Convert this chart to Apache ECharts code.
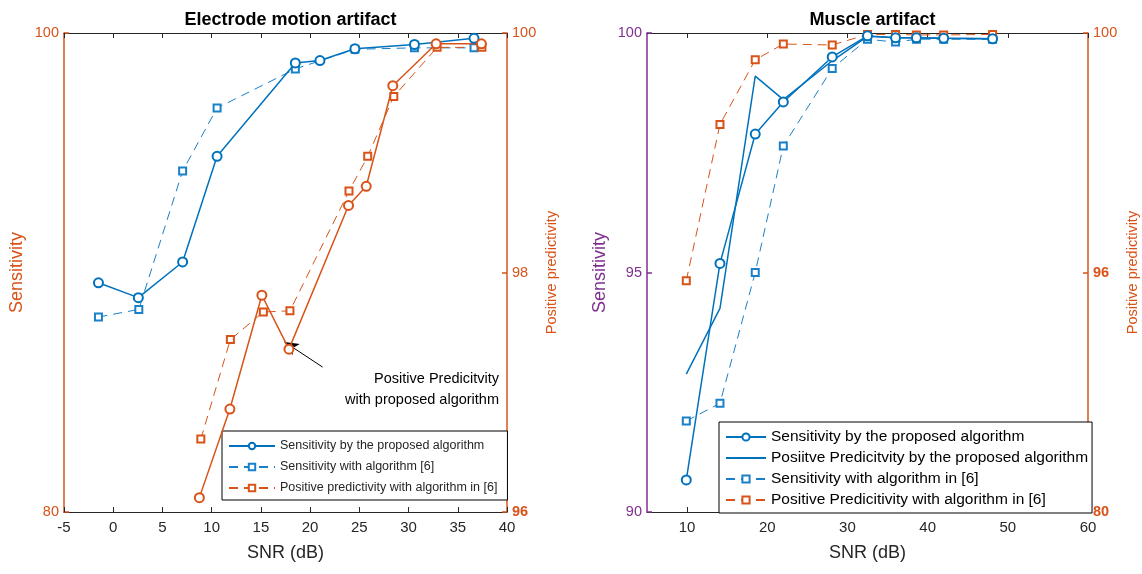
<!DOCTYPE html>
<html>
<head>
<meta charset="utf-8">
<title>Sensitivity and positive predictivity versus SNR</title>
<script src="https://cdn.jsdelivr.net/npm/echarts@6/dist/echarts.min.js"></script>
<style>
  html, body { margin: 0; padding: 0; background: #fff; }
  #chart { width: 1142px; height: 574px; }
</style>
</head>
<body>
<div id="chart"></div>
<script>
// ---- Electrode motion artifact ----
const emSensPropX = [-1.5, 2.55, 7.05, 10.55, 18.5, 21.0, 24.55, 30.6, 36.65];
const emSensProp  = [89.57, 88.95, 90.44, 94.85, 98.75, 98.85, 99.34, 99.52, 99.78];
const emSensRefX  = [-1.5, 2.6, 7.05, 10.55, 18.5, 24.55, 30.6, 36.65];
const emSensRef   = [88.14, 88.46, 94.24, 96.87, 98.50, 99.32, 99.38, 99.38];
const emPpvPropX  = [8.75, 11.85, 15.1, 17.85, 23.9, 25.7, 28.4, 32.8, 37.4];
const emPpvProp   = [96.12, 96.86, 97.81, 97.36, 98.56, 98.72, 99.56, 99.91, 99.91];
const emPpvRefX   = [8.9, 11.9, 15.25, 17.95, 23.95, 25.85, 28.5, 32.9, 37.45];
const emPpvRef    = [96.61, 97.44, 97.67, 97.68, 98.68, 98.97, 99.47, 99.88, 99.88];

// ---- Muscle artifact ----
const maSNR      = [9.9, 14.1, 18.5, 22.0, 28.1, 32.5, 36.0, 38.6, 42.0, 48.1];
const maSensProp = [90.67, 95.19, 97.89, 98.56, 99.5, 99.94, 99.9, 99.9, 99.89, 99.88];
const maPpvProp  = [92.88, 94.25, 99.1, 98.61, 99.42, 99.93, 99.9, 99.9, 99.89, 99.88];
const maSensRef  = [91.9, 92.27, 95.0, 97.64, 99.26, 99.87, 99.81, 99.87, 99.87, 99.87];
const maPpvRef   = [89.66, 96.18, 98.88, 99.54, 99.5, 99.94, 99.94, 99.92, 99.92, 99.94];

// ---- tick labels ----
const maXTicks = [10, 20, 30, 40, 50, 60];
const maRightTickValues = [80, 90, 100];
const maRightTickLabels = ['80', '96', '100'];

// ---- annotation (SNR dB, positive predictivity %) ----
const arrowFrom = [21.27, 97.21];
const arrowTo   = [17.4, 97.42];
const noteLines = ['Positive Predicitvity', 'with proposed algorithm'];

// ---- legend names ----
const nSensProp = 'Sensitivity by the proposed algorithm';
const nEmSensRef = 'Sensitivity with algorithm [6]';
const nEmPpvRef = 'Positive predictivity with algorithm in [6]';
const nEmPpvProp = 'Positive predictivity by the proposed algorithm';
const nMaPpvProp = 'Posiitve Predicitvity by the proposed algorithm';
const nMaSensRef = 'Sensitivity with algorithm in [6]';
const nMaPpvRef = 'Positive Predicitivity with algorithm in [6]';

const BLUE = '#0072BD';
const BLUE_D = '#1a80c8';
const ORANGE = '#D95319';
const PURPLE = '#7E2F8E';
const DARK = '#262626';
const FONT = 'Liberation Sans, Arial, Helvetica, sans-serif';

const zip = (xs, ys) => xs.map((x, i) => [x, ys[i]]);

function xAxisPair(gridIndex, min, max, interval, custom) {
  const tick = { show: true, inside: true, length: 5, lineStyle: { color: DARK, width: 1 } };
  const label = { color: DARK, fontSize: 15, fontFamily: FONT, margin: 8 };
  if (custom) { tick.customValues = custom; label.customValues = custom; }
  return [
    {
      type: 'value', gridIndex, position: 'bottom', min, max, interval,
      name: 'SNR (dB)', nameLocation: 'middle', nameGap: 32,
      nameTextStyle: { color: DARK, fontSize: 18, fontFamily: FONT },
      axisLine: { show: true, onZero: false, lineStyle: { color: DARK, width: 1 } },
      axisTick: tick, axisLabel: label, splitLine: { show: false }
    },
    {
      type: 'value', gridIndex, position: 'top', min, max, interval,
      axisLine: { show: true, onZero: false, lineStyle: { color: DARK, width: 1 } },
      axisTick: Object.assign({}, tick), axisLabel: { show: false }, splitLine: { show: false }
    }
  ];
}

function yAxis(gridIndex, position, min, max, interval, color, name, nameSize, nameGap, extraLabel) {
  return {
    type: 'value', gridIndex, position, min, max, interval,
    name, nameLocation: 'middle', nameGap, nameRotate: 90,
    nameTextStyle: { color, fontSize: nameSize, fontFamily: FONT },
    axisLine: { show: true, onZero: false, lineStyle: { color, width: 1.5 } },
    axisTick: { show: true, inside: true, length: 5, lineStyle: { color, width: 1.5 } },
    axisLabel: Object.assign({ color, fontSize: 14.5, fontFamily: FONT, margin: 5 }, extraLabel || {}),
    splitLine: { show: false }
  };
}

const markerCircle = (color) => ({
  symbol: 'emptyCircle', symbolSize: 9,
  itemStyle: { color, borderColor: color, borderWidth: 1.5 }
});
const markerSquare = (color) => ({
  symbol: 'emptyRect', symbolSize: 7,
  itemStyle: { color, borderColor: color, borderWidth: 1 }
});

const boldRich = { b: { color: ORANGE, fontSize: 14.5, fontWeight: 'bold', fontFamily: FONT } };

const xAxes = [
  ...xAxisPair(0, -5, 40, 5, null),
  ...xAxisPair(1, 5, 60, 10, maXTicks)
];

const yAxes = [
  yAxis(0, 'left', 80, 100, 20, ORANGE, 'Sensitivity', 18, 38),
  yAxis(0, 'right', 96, 100, 2, ORANGE, 'Positive predictivity', 14.5, 37, {
    formatter: (v) => v === 96 ? '{b|96}' : String(v),
    rich: boldRich
  }),
  yAxis(1, 'left', 90, 100, 5, PURPLE, 'Sensitivity', 18, 38),
  yAxis(1, 'right', 80, 100, 10, ORANGE, 'Positive predictivity', 14.5, 37, {
    formatter: (v) => {
      const i = maRightTickValues.indexOf(v);
      const t = i >= 0 ? maRightTickLabels[i] : String(v);
      return v === 100 ? t : '{b|' + t + '}';
    },
    rich: boldRich
  })
];

const series = [
  // electrode motion artifact
  Object.assign({
    name: nSensProp, type: 'line', xAxisIndex: 0, yAxisIndex: 0,
    data: zip(emSensPropX, emSensProp),
    lineStyle: { color: BLUE, width: 1.5, type: 'solid' }, z: 5
  }, markerCircle(BLUE)),
  Object.assign({
    name: nEmSensRef, type: 'line', xAxisIndex: 0, yAxisIndex: 0,
    data: zip(emSensRefX, emSensRef),
    lineStyle: { color: BLUE_D, width: 1, type: [9, 6] }, z: 4
  }, markerSquare(BLUE_D)),
  Object.assign({
    name: nEmPpvProp, type: 'line', xAxisIndex: 0, yAxisIndex: 1,
    data: zip(emPpvPropX, emPpvProp),
    lineStyle: { color: ORANGE, width: 1.5, type: 'solid' }, z: 5,
    markLine: {
      silent: true, symbol: ['none', 'arrow'], symbolSize: [10, 14],
      label: { show: false },
      lineStyle: { color: '#000', width: 1, type: 'solid' },
      emphasis: { disabled: true },
      data: [[{ coord: arrowFrom }, { coord: arrowTo }]]
    }
  }, markerCircle(ORANGE)),
  Object.assign({
    name: nEmPpvRef, type: 'line', xAxisIndex: 0, yAxisIndex: 1,
    data: zip(emPpvRefX, emPpvRef),
    lineStyle: { color: ORANGE, width: 1, type: [9, 6] }, z: 4
  }, markerSquare(ORANGE)),

  // muscle artifact
  Object.assign({
    name: nSensProp, type: 'line', xAxisIndex: 2, yAxisIndex: 2,
    data: zip(maSNR, maSensProp),
    lineStyle: { color: BLUE, width: 1.5, type: 'solid' }, z: 5
  }, markerCircle(BLUE)),
  {
    name: nMaPpvProp, type: 'line', xAxisIndex: 2, yAxisIndex: 2,
    data: zip(maSNR, maPpvProp), symbol: 'none',
    itemStyle: { color: BLUE },
    lineStyle: { color: BLUE, width: 1.5, type: 'solid' }, z: 5
  },
  Object.assign({
    name: nMaSensRef, type: 'line', xAxisIndex: 2, yAxisIndex: 2,
    data: zip(maSNR, maSensRef),
    lineStyle: { color: BLUE_D, width: 1, type: [9, 6] }, z: 4
  }, markerSquare(BLUE_D)),
  Object.assign({
    name: nMaPpvRef, type: 'line', xAxisIndex: 2, yAxisIndex: 3,
    data: zip(maSNR, maPpvRef),
    lineStyle: { color: ORANGE, width: 1, type: [9, 6] }, z: 4
  }, markerSquare(ORANGE))
];

const legendBase = {
  orient: 'vertical', selectedMode: false,
  backgroundColor: '#fff', borderColor: '#000', borderWidth: 1
};

const option = {
  animation: false,
  backgroundColor: '#fff',
  title: [
    { text: 'Electrode motion artifact', left: 285.5, textAlign: 'center', top: 6,
      textStyle: { fontSize: 18, fontWeight: 'bold', color: '#000', fontFamily: FONT } },
    { text: 'Muscle artifact', left: 867.5, textAlign: 'center', top: 6,
      textStyle: { fontSize: 18, fontWeight: 'bold', color: '#000', fontFamily: FONT } }
  ],
  grid: [
    { left: 64, right: 635, top: 33, bottom: 62, containLabel: false },
    { left: 647, right: 54, top: 33, bottom: 62, containLabel: false }
  ],
  xAxis: xAxes,
  yAxis: yAxes,
  legend: [
    Object.assign({}, legendBase, {
      data: [nSensProp, nEmSensRef, nEmPpvRef],
      left: 222, top: 431, padding: [8, 10, 5, 6], itemGap: 7,
      itemWidth: 46, itemHeight: 8,
      textStyle: { color: DARK, fontFamily: FONT, fontSize: 12.5, lineHeight: 14 }
    }),
    Object.assign({}, legendBase, {
      data: [nSensProp, { name: nMaPpvProp, itemStyle: { opacity: 0 } }, nMaSensRef, nMaPpvRef],
      left: 719, top: 422, padding: [7, 4, 5, 6], itemGap: 5,
      itemWidth: 40, itemHeight: 9,
      textStyle: { color: '#000', fontFamily: FONT, fontSize: 15.5, lineHeight: 16 }
    })
  ],
  graphic: noteLines.map((t, i) => ({
    type: 'text', right: 1142 - 499, top: 371 + i * 21, z: 10,
    style: { text: t, fill: '#000', font: '14.5px ' + FONT }
  })),
  series
};

const chart = echarts.init(document.getElementById('chart'), null, { renderer: 'canvas' });
chart.setOption(option);
</script>
</body>
</html>
